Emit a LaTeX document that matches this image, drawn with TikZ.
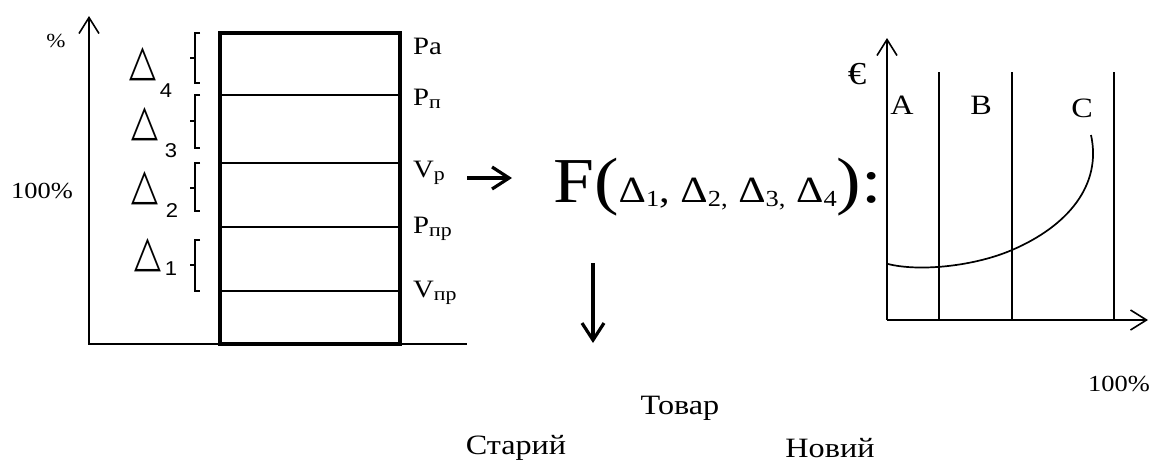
\documentclass[tikz,border=0pt]{standalone}
\usepackage{fontspec}
\setmainfont{Liberation Serif}[FakeStretch=1.15]
\newfontfamily\trifont{DejaVu Sans}
\newfontfamily\subsans{Liberation Sans}[FakeStretch=1.1]
\usetikzlibrary{arrows.meta}
\newcommand\lowsub[1]{\raisebox{-3pt}{\fontsize{19}{20}\selectfont #1}}
\begin{document}
\begin{tikzpicture}[x=1pt,y=-1pt,
  thinln/.style={line width=1.7pt},
  boxln/.style={line width=3.8pt},
  brk/.style={line width=1.4pt},
  axisarrow/.style={thinln,-{Straight Barb[length=16pt,width=20pt,line width=1.6pt]}},
  boldarrow/.style={line width=3.2pt,-{Straight Barb[length=17pt,width=22pt,line width=3.2pt]}},
  lbl/.style={inner sep=0pt,anchor=base west,font=\fontsize{25}{27}\selectfont},
  txt/.style={inner sep=0pt,font=\fontsize{23}{25}\selectfont},
  big/.style={inner sep=0pt,font=\fontsize{28}{30}\selectfont},
  tri/.style={inner sep=0pt,font=\trifont\fontsize{35}{37}\selectfont,yscale=1.25},
  trisub/.style={inner sep=0pt,font=\subsans\fontsize{20}{21}\selectfont},
]
\useasboundingbox (0,0) rectangle (1154,464);

% ---------- left chart ----------
\coordinate (lo) at (89,344);
\coordinate (ltop) at (89,16);
\coordinate (lend) at (467,344);
\coordinate (lstart) at (88,344);
\draw[axisarrow] (lo) -- (ltop);
\draw[thinln] (lstart) -- (lend);
\node[inner sep=0pt,font=\fontsize{20}{21}\selectfont] (pct) at (56,41) {\%};
\node[txt] (hund) at (42,191) {100\%};

% box
\draw[thinln] (220,95) -- (400,95);
\draw[thinln] (220,163) -- (400,163);
\draw[thinln] (220,227) -- (400,227);
\draw[thinln] (220,291) -- (400,291);
\draw[boxln] (220,33) rectangle (400,344);

% brackets
\foreach \t/\b/\m in {33/83/58, 95/148/121, 163/211/188, 240/291/265}{
  \draw[brk] (200,\t) -- (195,\t) -- (195,\b) -- (200,\b);
  \draw[brk] (195,\m) -- (190,\m);
}

% triangles with indices
\node[tri] (t4) at (142.5,64) {△};
\node[tri] (t3) at (144.5,124) {△};
\node[tri] (t2) at (144.5,188) {△};
\node[tri] (t1) at (147.5,255) {△};
\node[trisub] (s4) at (166,91) {4};
\node[trisub] (s3) at (171,151) {3};
\node[trisub] (s2) at (172,211) {2};
\node[trisub] (s1) at (171,269) {1};

% labels right of the box
\node[lbl] (pa) at (413,54) {Pa};
\node[lbl] (pp) at (413,105) {P\lowsub{п}};
\node[lbl] (vr) at (413,177) {V\lowsub{р}};
\node[lbl] (ppr) at (413,233) {P\lowsub{пр}};
\node[lbl] (vpr) at (413,297) {V\lowsub{пр}};

% arrows
\coordinate (ra0) at (467,178);
\coordinate (ra1) at (512,178);
\draw[boldarrow] (ra0) -- (ra1);
\coordinate (da0) at (593,263);
\coordinate (da1) at (593,343);
\draw[boldarrow] (da0) -- (da1);

% formula
\node[inner sep=0pt,anchor=base west] (formula) at (553,202)
 {{\fontsize{64}{66}\selectfont F(}{\fontsize{37}{39}\selectfont Δ\raisebox{-4pt}{\fontsize{23}{25}\selectfont 1}, Δ\raisebox{-4pt}{\fontsize{23}{25}\selectfont 2,} Δ\raisebox{-4pt}{\fontsize{23}{25}\selectfont 3,} Δ\raisebox{-4pt}{\fontsize{23}{25}\selectfont 4}}{\fontsize{64}{66}\selectfont ):}};

% ---------- right chart ----------
\coordinate (ro) at (887,320);
\coordinate (rtop) at (887,38);
\coordinate (rright) at (1148,320);
\draw[axisarrow] (ro) -- (rtop);
\draw[axisarrow] (ro) -- (rright);
\foreach \x in {939,1012,1114}{
  \draw[thinln] (\x,72) -- (\x,320);
}
\node[big] (la) at (902,105) {A};
\node[big] (lb) at (981,105) {B};
\node[big] (lc) at (1082,108) {C};
\node[inner sep=0pt,font=\fontsize{32}{34}\selectfont] (eur) at (857,74) {€};
\node[txt] (hund2) at (1119,384) {100\%};
\coordinate (c0) at (888,264);
\coordinate (c1) at (1012,250);
\coordinate (c2) at (1091,135);
\draw[thinln] (c0) .. controls (920,272) and (975,266) .. (c1)
  .. controls (1068,226) and (1102,185) .. (c2);

% ---------- bottom ----------
\node[big] (tovar) at (680,408) {Товар};
\node[big] (star) at (516,448) {Старий};
\node[big] (nov) at (830,448) {Новий};
\end{tikzpicture}
\end{document}
